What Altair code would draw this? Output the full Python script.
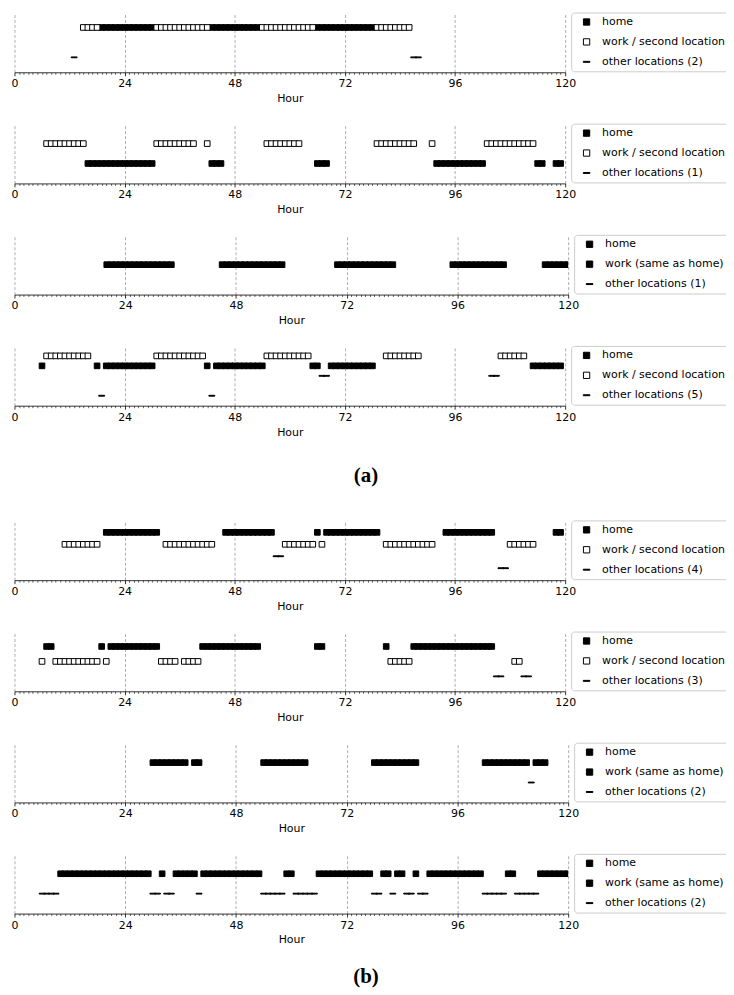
import altair as alt
import pandas as pd

HOME = "home"
WORK_SECOND = "work / second location"
WORK_SAME = "work (same as home)"

# ---------------- figure (a) ----------------
A1_HOME = [(19, 30), (43, 53), (66, 78)]
A1_WORK = [(15, 18), (31, 42), (54, 65), (79, 86)]
A1_OTHER = [(13, 13), (87, 88)]

A2_WORK = [(7, 15), (31, 39), (42, 42), (55, 62), (79, 87), (91, 91), (103, 113)]
A2_HOME = [(16, 30), (43, 45), (66, 68), (92, 102), (114, 115), (118, 119)]

A3_HOME = [(20, 34), (45, 58), (70, 82), (95, 106), (115, 120)]

A4_WORK = [(7, 16), (31, 41), (55, 64), (81, 88), (106, 111)]
A4_HOME = [(6, 6), (18, 18), (20, 30), (42, 42), (44, 54), (65, 66), (69, 78), (113, 119)]
A4_OTHER_1 = [(67, 68), (104, 105)]
A4_OTHER_2 = [(19, 19), (43, 43)]

# ---------------- figure (b) ----------------
B1_HOME = [(20, 31), (46, 56), (66, 66), (68, 79), (94, 104), (118, 119)]
B1_WORK = [(11, 18), (33, 43), (59, 65), (67, 67), (81, 91), (108, 113)]
B1_OTHER_1 = [(57, 58)]
B1_OTHER_2 = [(106, 107)]

B2_HOME = [(7, 8), (19, 19), (21, 31), (41, 53), (66, 67), (81, 81), (87, 104)]
B2_WORK = [(6, 6), (9, 18), (20, 20), (32, 35), (37, 40), (82, 86), (109, 110)]
B2_OTHER = [(105, 106), (111, 112)]

B3_HOME = [(30, 37), (39, 40), (54, 63), (78, 87), (102, 111), (113, 115)]
B3_OTHER = [(112, 112)]

B4_HOME = [(10, 29), (32, 32), (35, 39), (41, 53), (59, 60), (66, 77), (80, 81),
           (83, 84), (87, 87), (90, 101), (107, 108), (114, 120)]
B4_OTHER = [(6, 9), (30, 31), (33, 34), (40, 40), (54, 58), (61, 65), (78, 79),
            (82, 82), (85, 86), (88, 89), (102, 106), (109, 113)]

PANELS = [
    dict(work=WORK_SECOND, n_other=2, ylim=(-0.5, 1.5), wide=False,
         series=[(HOME, 0, A1_HOME), ("work", 0, A1_WORK), ("other", 1, A1_OTHER)]),
    dict(work=WORK_SECOND, n_other=1, ylim=(-1, 2), wide=False,
         series=[("work", 0, A2_WORK), (HOME, 1, A2_HOME)]),
    dict(work=WORK_SAME, n_other=1, ylim=(-1, 1), wide=True,
         series=[(HOME, 0, A3_HOME)]),
    dict(work=WORK_SECOND, n_other=5, ylim=(-1, 5), wide=False,
         series=[("work", 0, A4_WORK), (HOME, 1, A4_HOME), ("other", 2, A4_OTHER_1),
                 ("other", 4, A4_OTHER_2)]),
    dict(work=WORK_SECOND, n_other=4, ylim=(-1, 4), wide=False,
         series=[(HOME, 0, B1_HOME), ("work", 1, B1_WORK), ("other", 2, B1_OTHER_1),
                 ("other", 3, B1_OTHER_2)]),
    dict(work=WORK_SECOND, n_other=3, ylim=(-1, 3), wide=False,
         series=[(HOME, 0, B2_HOME), ("work", 1, B2_WORK), ("other", 2, B2_OTHER)]),
    dict(work=WORK_SAME, n_other=2, ylim=(-1, 2), wide=True,
         series=[(HOME, 0, B3_HOME), ("other", 1, B3_OTHER)]),
    dict(work=WORK_SAME, n_other=2, ylim=(-1, 2), wide=True,
         series=[(HOME, 0, B4_HOME), ("other", 1, B4_OTHER)]),
]

SQUARE = "square"
DASH = "M-1.05,-0.15H1.05V0.15H-1.05Z"
PLOT_H = 60


def panel(p):
    other_label = f"other locations ({p['n_other']})"
    labels = [HOME, p["work"], other_label]
    recs = []
    for kind, row, segs in p["series"]:
        lab = {HOME: HOME, "work": p["work"], "other": other_label}[kind]
        for s, e in segs:
            for h in range(s, e + 1):
                recs.append({"hour": h, "loc": lab, "row": row})
    df = pd.DataFrame(recs)
    width = 556 if p["wide"] else 553
    work_fill = "white" if p["work"] == WORK_SECOND else "black"
    legend = alt.Legend(
        title=None, orient="right", offset=5.5, padding=4, cornerRadius=3,
        strokeColor="#cccccc", fillColor="white", labelFontSize=11,
        labelColor="black", symbolSize=40, symbolStrokeWidth=1,
        symbolOffset=6, labelOffset=10, rowPadding=8,
    )
    major = "datum.value % 24 == 0"
    axis = alt.Axis(
        values=list(range(0, 121)),
        labelExpr=f"{major} ? datum.label : ''",
        labelOverlap=False, labelFlush=False, labelFontSize=11,
        labelColor="black", labelPadding=2,
        tickSize=alt.condition(major, alt.value(3.5), alt.value(2)),
        tickWidth=alt.condition(major, alt.value(0.8), alt.value(0.6)),
        tickColor="black", domainColor="black", domainWidth=0.8,
        grid=True, gridDash=[3, 2], gridColor="#9a9a9a", gridWidth=0.8,
        gridOpacity=alt.condition(major, alt.value(1), alt.value(0)),
        title="Hour", titleFontSize=11, titleFontWeight="normal",
        titleColor="black", titlePadding=4,
    )
    return (
        alt.Chart(df)
        .mark_point(filled=True, stroke="black", strokeWidth=1, size=32,
                    opacity=1, clip=True)
        .encode(
            x=alt.X("hour:Q", scale=alt.Scale(domain=[0, 120], nice=False,
                                              zero=False), axis=axis),
            y=alt.Y("row:Q", scale=alt.Scale(domain=list(p["ylim"]), reverse=True,
                                             nice=False, zero=False), axis=None),
            fill=alt.Fill("loc:N", scale=alt.Scale(domain=labels,
                                                   range=["black", work_fill, "black"]),
                          legend=legend),
            stroke=alt.Stroke("loc:N", scale=alt.Scale(domain=labels,
                                                       range=["black", "black", "black"]),
                              legend=legend),
            shape=alt.Shape("loc:N", scale=alt.Scale(domain=labels,
                                                     range=[SQUARE, SQUARE, DASH]),
                            legend=legend),
        )
        .properties(width=width, height=PLOT_H)
    )


def label_chart(text, h, ty):
    return (
        alt.Chart(pd.DataFrame({"t": [text]}))
        .mark_text(font="Liberation Serif", fontWeight="bold", fontSize=21,
                   align="center", baseline="middle", color="black")
        .encode(text="t:N", x=alt.value(353), y=alt.value(ty))
        .properties(width=553, height=h)
    )


charts = [panel(p) for p in PANELS[:4]]
charts.append(label_chart("(a)", 44.4, 20))
charts += [panel(p) for p in PANELS[4:]]
charts.append(label_chart("(b)", 20, 13))

chart = (
    alt.vconcat(*charts, spacing=18.6)
    .resolve_scale(fill="independent", stroke="independent", shape="independent")
    .properties(padding={"left": 2.5, "top": 1.5, "right": -4.5, "bottom": 0})
    .configure(font="DejaVu Sans")
    .configure_view(stroke=None)
)

chart.save("out.html", embed_options={"renderer": "svg", "actions": False})
